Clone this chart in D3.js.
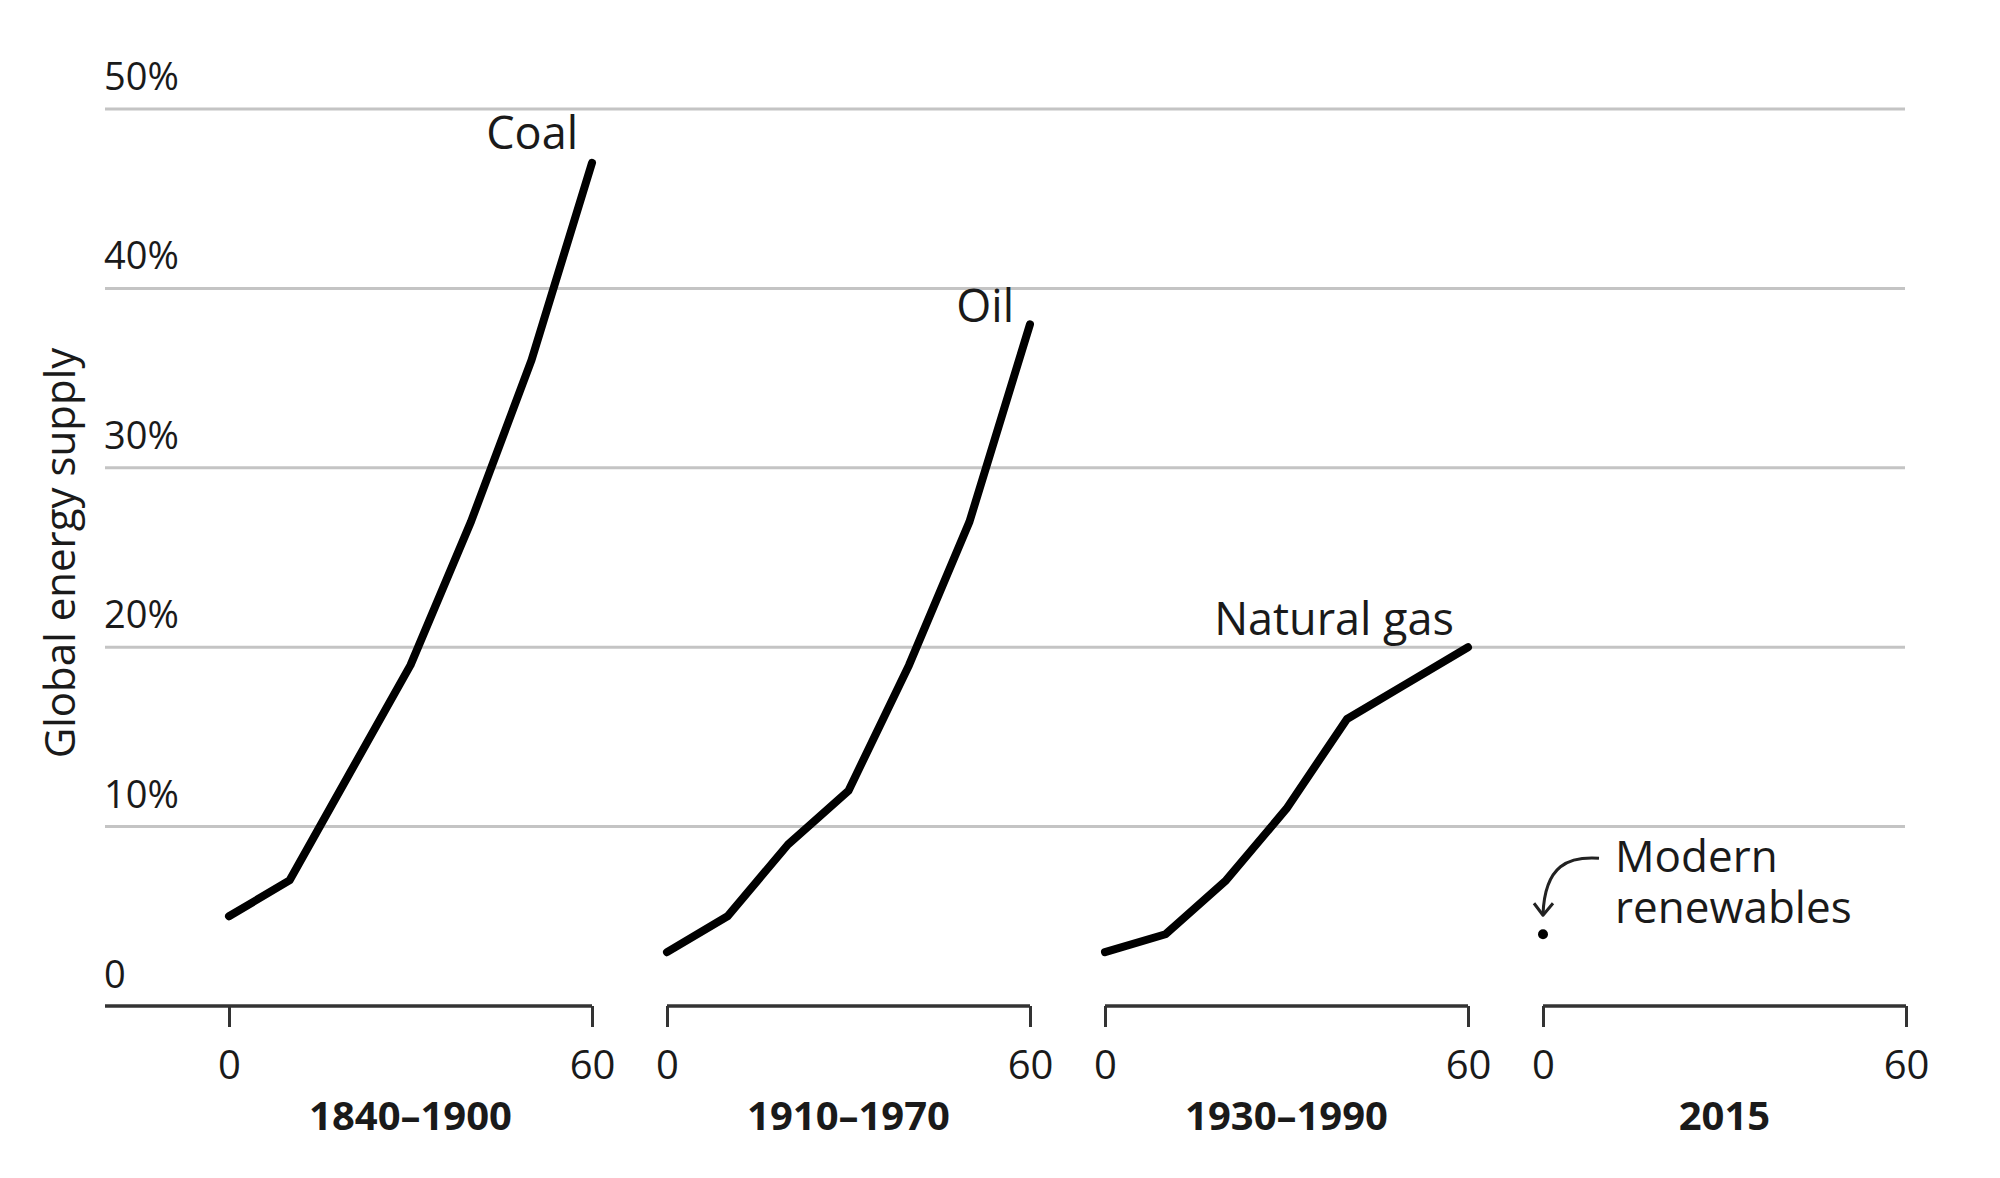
<!DOCTYPE html>
<html>
<head>
<meta charset="utf-8">
<script src="https://cdn.jsdelivr.net/npm/d3@7"></script>
<style>
  html, body { margin: 0; padding: 0; background: #fff; }
  svg { display: block; }
  text { font-family: "Open Sans", "Lato", sans-serif; fill: #1a1a1a; }
</style>
</head>
<body>
<svg id="chart" width="2000" height="1178"></svg>
<script>
// ---- data ----
const periods = ["1840–1900", "1910–1970", "1930–1990", "2015"];
const years = [0, 10, 20, 30, 40, 50, 60];
const coal = [5, 7, 13, 19, 27, 36, 47];
const oil = [3, 5, 9, 12, 19, 27, 38];
const gas = [3, 4, 7, 11, 16, 18, 20];
const renewables = [4];            // value at year 0 of 2015 panel
const seriesNames = ["Coal", "Oil", "Natural gas", "Modern renewables"];
const yTicks = [0, 10, 20, 30, 40, 50];
const yTickLabels = ["0", "10%", "20%", "30%", "40%", "50%"];
const xTicks = [0, 60];
const yTitle = "Global energy supply";

// ---- layout ----
const svg = d3.select("#chart");
const y = d3.scaleLinear().domain([0, 50]).range([1006, 109]);
const gridLeft = 105, gridRight = 1905;
const panelStart = 229, panelStep = 438, panelWidth = 363;
const xs = periods.map((p, i) => d3.scaleLinear().domain([0, 60])
  .range([panelStart + i * panelStep, panelStart + i * panelStep + panelWidth]));

// gridlines
svg.append("g").selectAll("line").data(yTicks.filter(d => d > 0)).join("line")
  .attr("x1", gridLeft).attr("x2", gridRight)
  .attr("y1", d => y(d)).attr("y2", d => y(d))
  .attr("stroke", "#c4c4c4").attr("stroke-width", 3);

// y tick labels
svg.append("g").selectAll("text").data(yTicks).join("text")
  .attr("x", gridLeft - 1)
  .attr("y", d => y(d) - (d === 0 ? 18 : 19))
  .attr("font-size", 38)
  .attr("fill", "#222")
  .text((d, i) => yTickLabels[i]);

// y title
svg.append("text")
  .attr("transform", `translate(75, 553) rotate(-90)`)
  .attr("text-anchor", "middle")
  .attr("font-size", 42)
  .attr("fill", "#222")
  .text(yTitle);

// panel axes
periods.forEach((p, i) => {
  const x = xs[i];
  const g = svg.append("g").attr("transform", `translate(0, ${y(0)})`);
  const axis = d3.axisBottom(x).tickValues(xTicks).tickSize(21).tickPadding(24)
    .tickFormat(d3.format("d"));
  g.call(axis);
  g.select(".domain").remove();
  g.selectAll(".tick line").attr("stroke", "#333").attr("stroke-width", 3);
  g.selectAll(".tick text").attr("font-size", 40).attr("fill", "#222")
    .attr("font-family", "'Open Sans', sans-serif").attr("dy", "0.71em");
  g.append("line")
    .attr("x1", i === 0 ? gridLeft : x(0)).attr("x2", x(60))
    .attr("y1", 0).attr("y2", 0)
    .attr("stroke", "#333").attr("stroke-width", 3.5);
  g.append("text")
    .attr("x", (x(0) + x(60)) / 2).attr("y", 124)
    .attr("text-anchor", "middle")
    .attr("font-size", 40).attr("font-weight", 700)
    .attr("fill", "#1a1a1a")
    .text(p);
});

// lines
const series = [coal, oil, gas];
series.forEach((vals, i) => {
  const x = xs[i];
  const line = d3.line().x((d, j) => x(years[j])).y(d => y(d));
  svg.append("path")
    .datum(vals)
    .attr("d", line)
    .attr("fill", "none")
    .attr("stroke", "#000")
    .attr("stroke-width", 8)
    .attr("stroke-linejoin", "round")
    .attr("stroke-linecap", "round");
});

// series labels
const lastX = i => xs[i](60);
const lastY = i => y(series[i][series[i].length - 1]);
svg.append("text").attr("x", lastX(0) - 14).attr("y", lastY(0) - 14)
  .attr("text-anchor", "end").attr("font-size", 45).text(seriesNames[0]);
svg.append("text").attr("x", lastX(1) - 16).attr("y", lastY(1) - 2)
  .attr("text-anchor", "end").attr("font-size", 45).text(seriesNames[1]);
svg.append("text").attr("x", lastX(2) - 14).attr("y", lastY(2) - 12)
  .attr("text-anchor", "end").attr("font-size", 45).text(seriesNames[2]);

// renewables point
const rx = xs[3](0), ry = y(renewables[0]);
svg.append("circle").attr("cx", rx).attr("cy", ry).attr("r", 5).attr("fill", "#000");

// arrow
const ax0 = rx + 56, ay0 = ry - 76;
const tipX = rx, tipY = ry - 20;
svg.append("path")
  .attr("d", `M${ax0},${ay0} C${ax0 - 30},${ay0 - 2} ${tipX + 2},${ay0 + 6} ${tipX},${tipY}`)
  .attr("fill", "none").attr("stroke", "#222").attr("stroke-width", 3);
svg.append("path")
  .attr("d", `M${tipX - 9},${tipY - 11} L${tipX},${tipY + 1} L${tipX + 10},${tipY - 11}`)
  .attr("fill", "none").attr("stroke", "#222").attr("stroke-width", 3)
  .attr("stroke-linejoin", "round");

// renewables label
const lbl = svg.append("text").attr("x", rx + 72).attr("y", ry - 62).attr("font-size", 44);
lbl.append("tspan").attr("x", rx + 72).text("Modern");
lbl.append("tspan").attr("x", rx + 72).attr("dy", 51).text("renewables");
</script>
</body>
</html>
